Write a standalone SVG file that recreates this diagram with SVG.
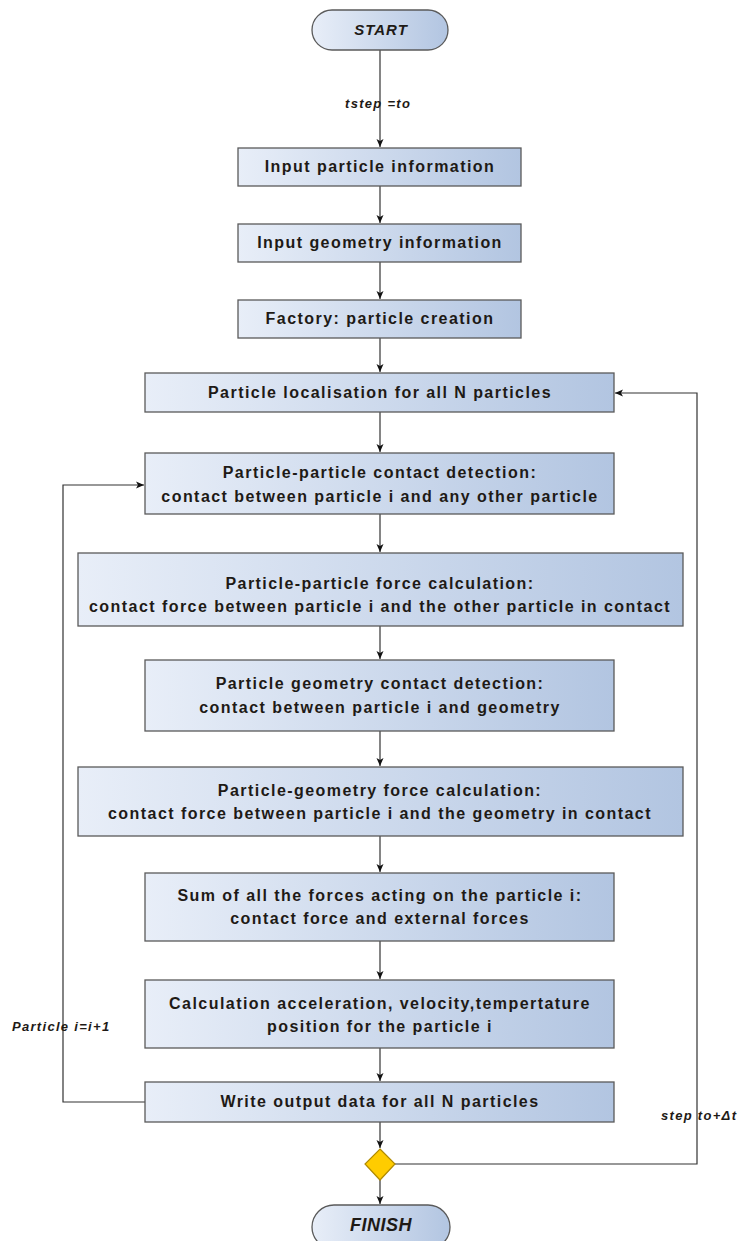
<svg xmlns="http://www.w3.org/2000/svg" width="740" height="1241" viewBox="0 0 740 1241">
<defs>
<linearGradient id="g" x1="0" y1="0" x2="1" y2="0">
<stop offset="0" stop-color="#e8eef8"/>
<stop offset="1" stop-color="#b2c5e1"/>
</linearGradient>
<marker id="arr" markerWidth="10" markerHeight="10" refX="9" refY="5" orient="auto" markerUnits="userSpaceOnUse">
<path d="M1,1.5 L9,5 L1,8.5 L3,5 Z" fill="#111"/>
</marker>
<style>
.box{fill:url(#g);stroke:#5a5a5a;stroke-width:1.3}
.t{font-family:"Liberation Sans",Arial,sans-serif;font-weight:bold;font-size:16px;letter-spacing:1.45px;fill:#1e1a16;text-anchor:middle}
.term{font-family:"Liberation Sans",Arial,sans-serif;font-weight:bold;font-style:italic;font-size:15px;letter-spacing:1px;fill:#1e1a16;text-anchor:middle}
.lbl{font-family:"Liberation Sans",Arial,sans-serif;font-weight:bold;font-style:italic;font-size:13px;letter-spacing:1.3px;fill:#1e1a16}
.c{fill:none;stroke:#333;stroke-width:1.2}
</style>
</defs>
<rect width="740" height="1241" fill="#fff"/>
<g id="connectors">
<path class="c" d="M380,50 V147" marker-end="url(#arr)"/>
<path class="c" d="M380,186 V223" marker-end="url(#arr)"/>
<path class="c" d="M380,262 V299" marker-end="url(#arr)"/>
<path class="c" d="M380,338 V372" marker-end="url(#arr)"/>
<path class="c" d="M380,412 V452" marker-end="url(#arr)"/>
<path class="c" d="M380,514 V552" marker-end="url(#arr)"/>
<path class="c" d="M380,626 V659" marker-end="url(#arr)"/>
<path class="c" d="M380,731 V766" marker-end="url(#arr)"/>
<path class="c" d="M380,836 V872" marker-end="url(#arr)"/>
<path class="c" d="M380,941 V979" marker-end="url(#arr)"/>
<path class="c" d="M380,1048 V1081" marker-end="url(#arr)"/>
<path class="c" d="M380,1122 V1148" marker-end="url(#arr)"/>
<path class="c" d="M380,1180 V1204" marker-end="url(#arr)"/>
<path class="c" d="M145,1102 H63 V485 H144" marker-end="url(#arr)"/>
<path class="c" d="M395,1164 H697 V393 H615" marker-end="url(#arr)"/>
<text class="lbl" x="345" y="108">tstep =to</text>
<text class="lbl" x="12" y="1031">Particle i=i+1</text>
<text class="lbl" x="661" y="1120">step to+Δt</text>
</g>
<g id="start">
<rect class="box" x="312" y="10" width="136" height="40" rx="20"/>
<text class="term" x="381" y="35">START</text>
</g>
<g id="n1">
<rect class="box" x="238" y="148" width="283" height="38"/>
<text class="t" x="380" y="172">Input particle information</text>
</g>
<g id="n2">
<rect class="box" x="238" y="224" width="283" height="38"/>
<text class="t" x="380" y="248">Input geometry information</text>
</g>
<g id="n3">
<rect class="box" x="238" y="300" width="283" height="38"/>
<text class="t" x="380" y="324">Factory: particle creation</text>
</g>
<g id="n4">
<rect class="box" x="145" y="373" width="469" height="39"/>
<text class="t" x="380" y="398">Particle localisation for all N particles</text>
</g>
<g id="n5">
<rect class="box" x="145" y="453" width="469" height="61"/>
<text class="t" x="380" y="478">Particle-particle contact detection:</text>
<text class="t" x="380" y="502">contact between particle i and any other particle</text>
</g>
<g id="n6">
<rect class="box" x="78" y="553" width="605" height="73"/>
<text class="t" x="380" y="589">Particle-particle force calculation:</text>
<text class="t" x="380" y="612">contact force between particle i and the other particle in contact</text>
</g>
<g id="n7">
<rect class="box" x="145" y="660" width="469" height="71"/>
<text class="t" x="380" y="689">Particle geometry contact detection:</text>
<text class="t" x="380" y="713">contact between particle i and geometry</text>
</g>
<g id="n8">
<rect class="box" x="78" y="767" width="605" height="69"/>
<text class="t" x="380" y="796">Particle-geometry force calculation:</text>
<text class="t" x="380" y="819">contact force between particle i and the geometry in contact</text>
</g>
<g id="n9">
<rect class="box" x="145" y="873" width="469" height="68"/>
<text class="t" x="380" y="901">Sum of all the forces acting on the particle i:</text>
<text class="t" x="380" y="924">contact force and external forces</text>
</g>
<g id="n10">
<rect class="box" x="145" y="980" width="469" height="68"/>
<text class="t" x="380" y="1009">Calculation acceleration, velocity,tempertature</text>
<text class="t" x="380" y="1032">position for the particle i</text>
</g>
<g id="n11">
<rect class="box" x="145" y="1082" width="469" height="40"/>
<text class="t" x="380" y="1107">Write output data for all N particles</text>
</g>
<g id="decision">
<path d="M380,1149 L395,1164 L380,1180 L365,1164 Z" fill="#ffcc00" stroke="#b08a00" stroke-width="1.2"/>
</g>
<g id="finish">
<rect class="box" x="312" y="1205" width="138" height="44" rx="22"/>
<text class="term" x="381" y="1231" style="font-size:18px;letter-spacing:0.5px">FINISH</text>
</g>
</svg>
